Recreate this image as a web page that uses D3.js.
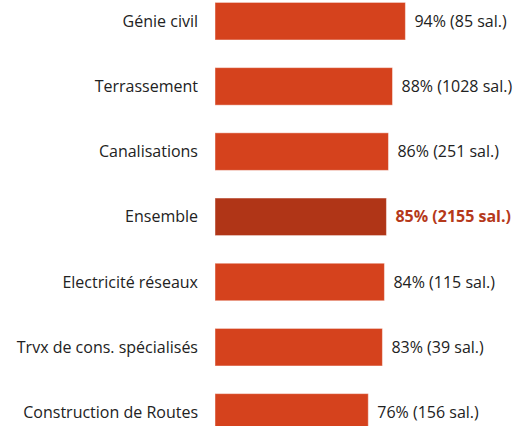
<!DOCTYPE html>
<html><head><meta charset="utf-8">
<script src="https://cdn.jsdelivr.net/npm/d3@7"></script>
<style>
html,body{margin:0;padding:0;background:#fff;}
svg{display:block;font-family:"Open Sans",sans-serif;}
</style></head>
<body><svg id="c" width="515" height="426"></svg>
<script>
const categories = ["Génie civil","Terrassement","Canalisations","Ensemble","Electricité réseaux","Trvx de cons. spécialisés","Construction de Routes"];
const values = [94.4, 88, 86, 85, 84, 83, 76];
const salaries = [85, 1028, 251, 2155, 115, 39, 156];
const highlight = "Ensemble";

const svg = d3.select("#c");
const x = d3.scaleLinear().domain([0,100]).range([215, 215+201.7]);
const y = d3.scaleBand().domain(categories).range([-11.4, -11.4+65.2*7]).paddingInner(0.424).paddingOuter(0.212);

const data = categories.map((c,i)=>({c, v:values[i], n:salaries[i]}));

svg.selectAll("rect.bar").data(data).join("rect")
  .attr("class","bar")
  .attr("x", x(0))
  .attr("y", d=>y(d.c))
  .attr("width", d=>x(d.v)-x(0))
  .attr("height", y.bandwidth())
  .attr("fill", d=>d.c===highlight?"#b03517":"#d5421d")
  .attr("stroke", "rgba(255,255,255,0.45)")
  .attr("stroke-width", 1);

svg.selectAll("text.cat").data(data).join("text")
  .attr("class","cat")
  .attr("x", 198)
  .attr("y", d=>y(d.c)+y.bandwidth()/2)
  .attr("dy","0.35em")
  .attr("text-anchor","end")
  .attr("font-size", 16)
  .attr("fill","#222")
  .text(d=>d.c);

svg.selectAll("text.val").data(data).join("text")
  .attr("class","val")
  .attr("x", d=>x(d.v)+9)
  .attr("y", d=>y(d.c)+y.bandwidth()/2)
  .attr("dy","0.35em")
  .attr("font-size", 16)
  .attr("font-weight", d=>d.c===highlight?"bold":"normal")
  .attr("fill", d=>d.c===highlight?"#b5391b":"#222")
  .text(d=>Math.round(d.v)+"% ("+d.n+" sal.)");
</script></body></html>
